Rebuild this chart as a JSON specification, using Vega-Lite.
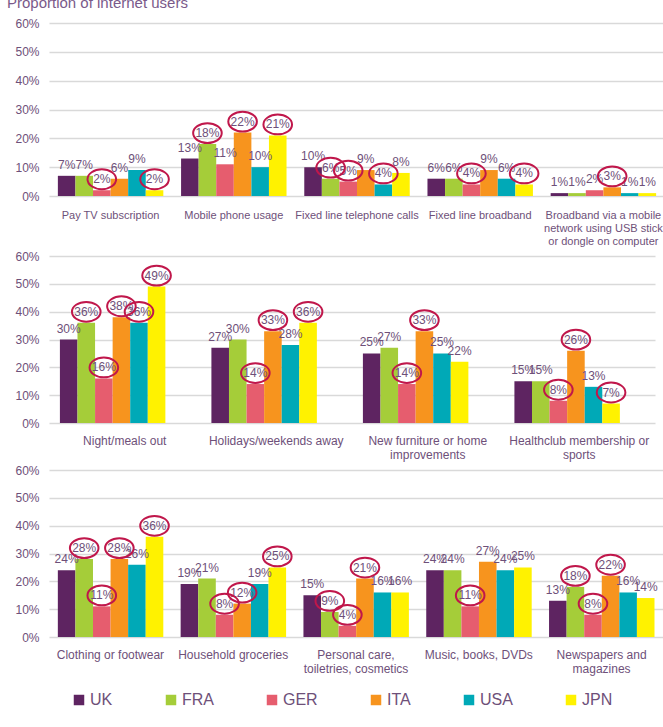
{
  "$schema": "https://vega.github.io/schema/vega-lite/v6.json",
  "padding": {"left": 6, "top": -4, "right": 0, "bottom": 0},
  "background": "white",
  "title": {"text": "Proportion of internet users", "anchor": "start", "fontSize": 15, "fontWeight": "normal", "color": "#7A5A8A", "font": "Liberation Sans", "dx": -8, "offset": 6},
  "config": {
    "font": "Liberation Sans",
    "view": {"stroke": null},
    "axis": {"labelColor": "#6E5079", "domain": false, "ticks": false, "labelFont": "Liberation Sans"},
    "concat": {"spacing": 4}
  },
  "datasets": {
    "d": [
      {"p": 1, "cat": "Pay TV subscription", "k": "UK", "v": 0.07, "c": 0},
      {"p": 1, "cat": "Pay TV subscription", "k": "FRA", "v": 0.07, "c": 0},
      {"p": 1, "cat": "Pay TV subscription", "k": "GER", "v": 0.02, "c": 1},
      {"p": 1, "cat": "Pay TV subscription", "k": "ITA", "v": 0.06, "c": 0},
      {"p": 1, "cat": "Pay TV subscription", "k": "USA", "v": 0.09, "c": 0},
      {"p": 1, "cat": "Pay TV subscription", "k": "JPN", "v": 0.02, "c": 1},
      {"p": 1, "cat": "Mobile phone usage", "k": "UK", "v": 0.13, "c": 0},
      {"p": 1, "cat": "Mobile phone usage", "k": "FRA", "v": 0.18, "c": 1},
      {"p": 1, "cat": "Mobile phone usage", "k": "GER", "v": 0.11, "c": 0},
      {"p": 1, "cat": "Mobile phone usage", "k": "ITA", "v": 0.22, "c": 1},
      {"p": 1, "cat": "Mobile phone usage", "k": "USA", "v": 0.10, "c": 0},
      {"p": 1, "cat": "Mobile phone usage", "k": "JPN", "v": 0.21, "c": 1},
      {"p": 1, "cat": "Fixed line telephone calls", "k": "UK", "v": 0.10, "c": 0},
      {"p": 1, "cat": "Fixed line telephone calls", "k": "FRA", "v": 0.06, "c": 1},
      {"p": 1, "cat": "Fixed line telephone calls", "k": "GER", "v": 0.05, "c": 1},
      {"p": 1, "cat": "Fixed line telephone calls", "k": "ITA", "v": 0.09, "c": 0},
      {"p": 1, "cat": "Fixed line telephone calls", "k": "USA", "v": 0.04, "c": 1},
      {"p": 1, "cat": "Fixed line telephone calls", "k": "JPN", "v": 0.08, "c": 0},
      {"p": 1, "cat": "Fixed line broadband", "k": "UK", "v": 0.06, "c": 0},
      {"p": 1, "cat": "Fixed line broadband", "k": "FRA", "v": 0.06, "c": 0},
      {"p": 1, "cat": "Fixed line broadband", "k": "GER", "v": 0.04, "c": 1},
      {"p": 1, "cat": "Fixed line broadband", "k": "ITA", "v": 0.09, "c": 0},
      {"p": 1, "cat": "Fixed line broadband", "k": "USA", "v": 0.06, "c": 0},
      {"p": 1, "cat": "Fixed line broadband", "k": "JPN", "v": 0.04, "c": 1},
      {"p": 1, "cat": "Broadband via a mobile|network using USB stick|or dongle on computer", "k": "UK", "v": 0.01, "c": 0},
      {"p": 1, "cat": "Broadband via a mobile|network using USB stick|or dongle on computer", "k": "FRA", "v": 0.01, "c": 0},
      {"p": 1, "cat": "Broadband via a mobile|network using USB stick|or dongle on computer", "k": "GER", "v": 0.02, "c": 0},
      {"p": 1, "cat": "Broadband via a mobile|network using USB stick|or dongle on computer", "k": "ITA", "v": 0.03, "c": 1},
      {"p": 1, "cat": "Broadband via a mobile|network using USB stick|or dongle on computer", "k": "USA", "v": 0.01, "c": 0},
      {"p": 1, "cat": "Broadband via a mobile|network using USB stick|or dongle on computer", "k": "JPN", "v": 0.01, "c": 0},
      {"p": 2, "cat": "Night/meals out", "k": "UK", "v": 0.30, "c": 0},
      {"p": 2, "cat": "Night/meals out", "k": "FRA", "v": 0.36, "c": 1},
      {"p": 2, "cat": "Night/meals out", "k": "GER", "v": 0.16, "c": 1},
      {"p": 2, "cat": "Night/meals out", "k": "ITA", "v": 0.38, "c": 1},
      {"p": 2, "cat": "Night/meals out", "k": "USA", "v": 0.36, "c": 1},
      {"p": 2, "cat": "Night/meals out", "k": "JPN", "v": 0.49, "c": 1},
      {"p": 2, "cat": "Holidays/weekends away", "k": "UK", "v": 0.27, "c": 0},
      {"p": 2, "cat": "Holidays/weekends away", "k": "FRA", "v": 0.30, "c": 0},
      {"p": 2, "cat": "Holidays/weekends away", "k": "GER", "v": 0.14, "c": 1},
      {"p": 2, "cat": "Holidays/weekends away", "k": "ITA", "v": 0.33, "c": 1},
      {"p": 2, "cat": "Holidays/weekends away", "k": "USA", "v": 0.28, "c": 0},
      {"p": 2, "cat": "Holidays/weekends away", "k": "JPN", "v": 0.36, "c": 1},
      {"p": 2, "cat": "New furniture or home|improvements", "k": "UK", "v": 0.25, "c": 0},
      {"p": 2, "cat": "New furniture or home|improvements", "k": "FRA", "v": 0.27, "c": 0},
      {"p": 2, "cat": "New furniture or home|improvements", "k": "GER", "v": 0.14, "c": 1},
      {"p": 2, "cat": "New furniture or home|improvements", "k": "ITA", "v": 0.33, "c": 1},
      {"p": 2, "cat": "New furniture or home|improvements", "k": "USA", "v": 0.25, "c": 0},
      {"p": 2, "cat": "New furniture or home|improvements", "k": "JPN", "v": 0.22, "c": 0},
      {"p": 2, "cat": "Healthclub membership or|sports", "k": "UK", "v": 0.15, "c": 0},
      {"p": 2, "cat": "Healthclub membership or|sports", "k": "FRA", "v": 0.15, "c": 0},
      {"p": 2, "cat": "Healthclub membership or|sports", "k": "GER", "v": 0.08, "c": 1},
      {"p": 2, "cat": "Healthclub membership or|sports", "k": "ITA", "v": 0.26, "c": 1},
      {"p": 2, "cat": "Healthclub membership or|sports", "k": "USA", "v": 0.13, "c": 0},
      {"p": 2, "cat": "Healthclub membership or|sports", "k": "JPN", "v": 0.07, "c": 1},
      {"p": 3, "cat": "Clothing or footwear", "k": "UK", "v": 0.24, "c": 0},
      {"p": 3, "cat": "Clothing or footwear", "k": "FRA", "v": 0.28, "c": 1},
      {"p": 3, "cat": "Clothing or footwear", "k": "GER", "v": 0.11, "c": 1},
      {"p": 3, "cat": "Clothing or footwear", "k": "ITA", "v": 0.28, "c": 1},
      {"p": 3, "cat": "Clothing or footwear", "k": "USA", "v": 0.26, "c": 0},
      {"p": 3, "cat": "Clothing or footwear", "k": "JPN", "v": 0.36, "c": 1},
      {"p": 3, "cat": "Household groceries", "k": "UK", "v": 0.19, "c": 0},
      {"p": 3, "cat": "Household groceries", "k": "FRA", "v": 0.21, "c": 0},
      {"p": 3, "cat": "Household groceries", "k": "GER", "v": 0.08, "c": 1},
      {"p": 3, "cat": "Household groceries", "k": "ITA", "v": 0.12, "c": 1},
      {"p": 3, "cat": "Household groceries", "k": "USA", "v": 0.19, "c": 0},
      {"p": 3, "cat": "Household groceries", "k": "JPN", "v": 0.25, "c": 1},
      {"p": 3, "cat": "Personal care,|toiletries, cosmetics", "k": "UK", "v": 0.15, "c": 0},
      {"p": 3, "cat": "Personal care,|toiletries, cosmetics", "k": "FRA", "v": 0.09, "c": 1},
      {"p": 3, "cat": "Personal care,|toiletries, cosmetics", "k": "GER", "v": 0.04, "c": 1},
      {"p": 3, "cat": "Personal care,|toiletries, cosmetics", "k": "ITA", "v": 0.21, "c": 1},
      {"p": 3, "cat": "Personal care,|toiletries, cosmetics", "k": "USA", "v": 0.16, "c": 0},
      {"p": 3, "cat": "Personal care,|toiletries, cosmetics", "k": "JPN", "v": 0.16, "c": 0},
      {"p": 3, "cat": "Music, books, DVDs", "k": "UK", "v": 0.24, "c": 0},
      {"p": 3, "cat": "Music, books, DVDs", "k": "FRA", "v": 0.24, "c": 0},
      {"p": 3, "cat": "Music, books, DVDs", "k": "GER", "v": 0.11, "c": 1},
      {"p": 3, "cat": "Music, books, DVDs", "k": "ITA", "v": 0.27, "c": 0},
      {"p": 3, "cat": "Music, books, DVDs", "k": "USA", "v": 0.24, "c": 0},
      {"p": 3, "cat": "Music, books, DVDs", "k": "JPN", "v": 0.25, "c": 0},
      {"p": 3, "cat": "Newspapers and|magazines", "k": "UK", "v": 0.13, "c": 0},
      {"p": 3, "cat": "Newspapers and|magazines", "k": "FRA", "v": 0.18, "c": 1},
      {"p": 3, "cat": "Newspapers and|magazines", "k": "GER", "v": 0.08, "c": 1},
      {"p": 3, "cat": "Newspapers and|magazines", "k": "ITA", "v": 0.22, "c": 1},
      {"p": 3, "cat": "Newspapers and|magazines", "k": "USA", "v": 0.16, "c": 0},
      {"p": 3, "cat": "Newspapers and|magazines", "k": "JPN", "v": 0.14, "c": 0}
    ]
  },
  "vconcat": [
    {
      "width": 616, "height": 173,
      "data": {"name": "d"},
      "transform": [{"filter": "datum.p == 1"}],
      "encoding": {
        "x": {"field": "cat", "type": "nominal", "sort": null, "title": null, "scale": {"paddingInner": 0.144, "paddingOuter": 0.072}, "axis": {"labelAngle": 0, "labelExpr": "split(datum.value, '|')", "labelFontSize": 11, "labelPadding": 13, "labelLineHeight": 13, "labelLimit": 200}},
        "xOffset": {"field": "k", "type": "nominal", "sort": ["UK", "FRA", "GER", "ITA", "USA", "JPN"], "scale": {"paddingInner": 0, "paddingOuter": 0}},
        "y": {"field": "v", "type": "quantitative", "scale": {"domain": [0, 0.6]}, "axis": {"values": [0, 0.1, 0.2, 0.3, 0.4, 0.5, 0.6], "format": ".0%", "title": null, "gridColor": "#D9D9D9", "gridWidth": 1.5, "labelFontSize": 12, "labelPadding": 10}}
      },
      "layer": [
        {"mark": {"type": "bar"}, "encoding": {"color": {"field": "k", "type": "nominal", "sort": ["UK", "FRA", "GER", "ITA", "USA", "JPN"], "scale": {"domain": ["UK", "FRA", "GER", "ITA", "USA", "JPN"], "range": ["#5E2461", "#A5CD39", "#E65D6E", "#F7941E", "#00A9B7", "#FFF200"]}, "legend": {"orient": "bottom", "direction": "horizontal", "title": null, "symbolType": "square", "symbolSize": 110, "labelFontSize": 16, "labelColor": "#6E5079", "columnPadding": 50, "offset": -4, "padding": 22, "symbolStrokeWidth": 0, "labelOffset": 3}}}},
        {"mark": {"type": "text", "dy": -11, "baseline": "middle", "fontSize": 12, "color": "#6E5079"}, "encoding": {"text": {"field": "v", "format": ".0%"}}},
        {"transform": [{"filter": "datum.c == 1"}], "mark": {"type": "point", "shape": "M-1.3,0A1.3,0.9 0 1,0 1.3,0A1.3,0.9 0 1,0 -1.3,0Z", "size": 484, "filled": false, "stroke": "#C0174B", "strokeWidth": 2, "yOffset": -11, "opacity": 1}}
      ]
    },
    {
      "width": 606, "height": 167,
      "data": {"name": "d"},
      "transform": [{"filter": "datum.p == 2"}],
      "encoding": {
        "x": {"field": "cat", "type": "nominal", "sort": null, "title": null, "scale": {"paddingInner": 0.144, "paddingOuter": 0.072}, "axis": {"labelAngle": 0, "labelExpr": "split(datum.value, '|')", "labelFontSize": 12, "labelPadding": 12, "labelLineHeight": 14, "labelLimit": 200}},
        "xOffset": {"field": "k", "type": "nominal", "sort": ["UK", "FRA", "GER", "ITA", "USA", "JPN"], "scale": {"paddingInner": 0, "paddingOuter": 0}},
        "y": {"field": "v", "type": "quantitative", "scale": {"domain": [0, 0.6]}, "axis": {"values": [0, 0.1, 0.2, 0.3, 0.4, 0.5, 0.6], "format": ".0%", "title": null, "gridColor": "#D9D9D9", "gridWidth": 1.5, "labelFontSize": 12, "labelPadding": 10}}
      },
      "layer": [
        {"mark": {"type": "bar"}, "encoding": {"color": {"field": "k", "type": "nominal", "sort": ["UK", "FRA", "GER", "ITA", "USA", "JPN"], "scale": {"domain": ["UK", "FRA", "GER", "ITA", "USA", "JPN"], "range": ["#5E2461", "#A5CD39", "#E65D6E", "#F7941E", "#00A9B7", "#FFF200"]}, "legend": {"orient": "bottom", "direction": "horizontal", "title": null, "symbolType": "square", "symbolSize": 110, "labelFontSize": 16, "labelColor": "#6E5079", "columnPadding": 50, "offset": -4, "padding": 22, "symbolStrokeWidth": 0, "labelOffset": 3}}}},
        {"mark": {"type": "text", "dy": -11, "baseline": "middle", "fontSize": 12, "color": "#6E5079"}, "encoding": {"text": {"field": "v", "format": ".0%"}}},
        {"transform": [{"filter": "datum.c == 1"}], "mark": {"type": "point", "shape": "M-1.3,0A1.3,0.9 0 1,0 1.3,0A1.3,0.9 0 1,0 -1.3,0Z", "size": 484, "filled": false, "stroke": "#C0174B", "strokeWidth": 2, "yOffset": -11, "opacity": 1}}
      ]
    },
    {
      "width": 614, "height": 167,
      "data": {"name": "d"},
      "transform": [{"filter": "datum.p == 3"}],
      "encoding": {
        "x": {"field": "cat", "type": "nominal", "sort": null, "title": null, "scale": {"paddingInner": 0.144, "paddingOuter": 0.072}, "axis": {"labelAngle": 0, "labelExpr": "split(datum.value, '|')", "labelFontSize": 12, "labelPadding": 12, "labelLineHeight": 14, "labelLimit": 200}},
        "xOffset": {"field": "k", "type": "nominal", "sort": ["UK", "FRA", "GER", "ITA", "USA", "JPN"], "scale": {"paddingInner": 0, "paddingOuter": 0}},
        "y": {"field": "v", "type": "quantitative", "scale": {"domain": [0, 0.6]}, "axis": {"values": [0, 0.1, 0.2, 0.3, 0.4, 0.5, 0.6], "format": ".0%", "title": null, "gridColor": "#D9D9D9", "gridWidth": 1.5, "labelFontSize": 12, "labelPadding": 10}}
      },
      "layer": [
        {"mark": {"type": "bar"}, "encoding": {"color": {"field": "k", "type": "nominal", "sort": ["UK", "FRA", "GER", "ITA", "USA", "JPN"], "scale": {"domain": ["UK", "FRA", "GER", "ITA", "USA", "JPN"], "range": ["#5E2461", "#A5CD39", "#E65D6E", "#F7941E", "#00A9B7", "#FFF200"]}, "legend": {"orient": "bottom", "direction": "horizontal", "title": null, "symbolType": "square", "symbolSize": 110, "labelFontSize": 16, "labelColor": "#6E5079", "columnPadding": 50, "offset": -4, "padding": 22, "symbolStrokeWidth": 0, "labelOffset": 3}}}},
        {"mark": {"type": "text", "dy": -11, "baseline": "middle", "fontSize": 12, "color": "#6E5079"}, "encoding": {"text": {"field": "v", "format": ".0%"}}},
        {"transform": [{"filter": "datum.c == 1"}], "mark": {"type": "point", "shape": "M-1.3,0A1.3,0.9 0 1,0 1.3,0A1.3,0.9 0 1,0 -1.3,0Z", "size": 484, "filled": false, "stroke": "#C0174B", "strokeWidth": 2, "yOffset": -11, "opacity": 1}}
      ]
    }
  ]
}
